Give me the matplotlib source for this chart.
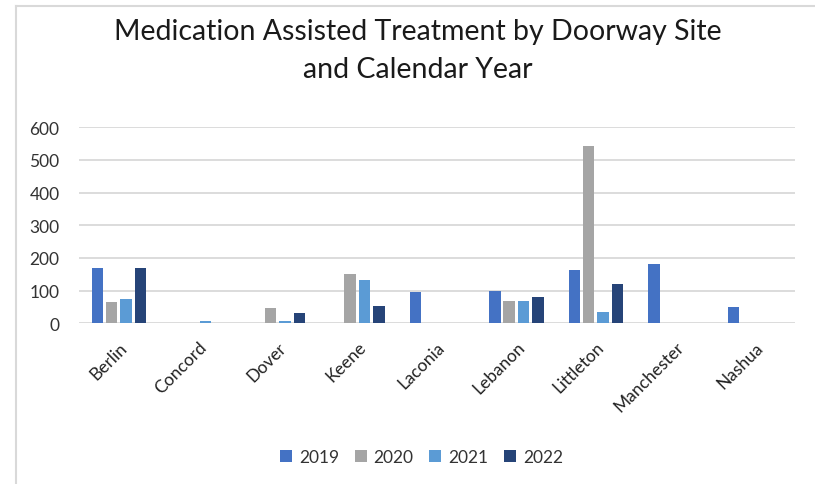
import matplotlib
matplotlib.use("Agg")
import matplotlib.pyplot as plt
import numpy as np
from matplotlib.lines import Line2D
from matplotlib.patches import Patch

sites = ["Berlin", "Concord", "Dover", "Keene", "Laconia", "Lebanon",
         "Littleton", "Manchester", "Nashua"]
years = ["2019", "2020", "2021", "2022"]
mat_2019 = [170, 0, 0, 0, 97, 100, 163, 182, 50]
mat_2020 = [64, 0, 48, 150, 0, 67, 543, 0, 0]
mat_2021 = [73, 7, 7, 133, 0, 67, 34, 0, 0]
mat_2022 = [170, 0, 31, 54, 0, 80, 120, 0, 0]
yticks = [0, 100, 200, 300, 400, 500, 600]

series = [mat_2019, mat_2020, mat_2021, mat_2022]
colors = ["#4472C4", "#A5A5A5", "#5B9BD5", "#264478"]

plt.rcParams["font.family"] = ["Lato", "DejaVu Sans"]

fig = plt.figure(figsize=(8.15, 4.85), dpi=100)
ax = fig.add_axes([0.097, 0.3313, 0.878, 0.4041])

x = np.arange(len(sites))
pitch = 0.18
width = 0.145
for i, (vals, col) in enumerate(zip(series, colors)):
    offs = (i - 1.5) * pitch
    ax.bar(x + offs, vals, width=width, color=col, zorder=3, label=years[i])

ax.set_xlim(-0.5, len(sites) - 0.5)
ax.set_ylim(0, 600)
ax.set_yticks(yticks)
ax.set_yticklabels([str(v) for v in yticks], fontsize=12.5, color="#333333")
ax.tick_params(axis="y", length=0, pad=14)
ax.set_xticks(x)
ax.set_xticklabels(sites, rotation=45, ha="right", rotation_mode="anchor",
                   fontsize=12.5, color="#222222")
ax.tick_params(axis="x", length=0, pad=11)
ax.grid(axis="y", color="#D9D9D9", linewidth=1.3, zorder=0)
for s in ax.spines.values():
    s.set_visible(False)

fig.text(0.513, 0.895, "Medication Assisted Treatment by Doorway Site\nand Calendar Year",
         ha="center", va="center", fontsize=20.5, color="#1a1a1a", linespacing=1.55)

handles = [Patch(facecolor=c, edgecolor="none") for c in colors]
fig.legend(handles, years, loc="center", bbox_to_anchor=(0.517, 0.055), ncol=4,
           frameon=False, fontsize=12.5, handlelength=0.7, handleheight=0.7,
           handletextpad=0.4, columnspacing=0.9, labelcolor="#333333")

# chart area border (left and top edges)
fig.add_artist(Line2D([16 / 815, 16 / 815], [0, 1 - 7 / 485], transform=fig.transFigure,
                      color="#D9D9D9", linewidth=1.5))
fig.add_artist(Line2D([16 / 815, 1], [1 - 7 / 485, 1 - 7 / 485], transform=fig.transFigure,
                      color="#D9D9D9", linewidth=1.5))

fig.savefig("out.png", dpi=100)
